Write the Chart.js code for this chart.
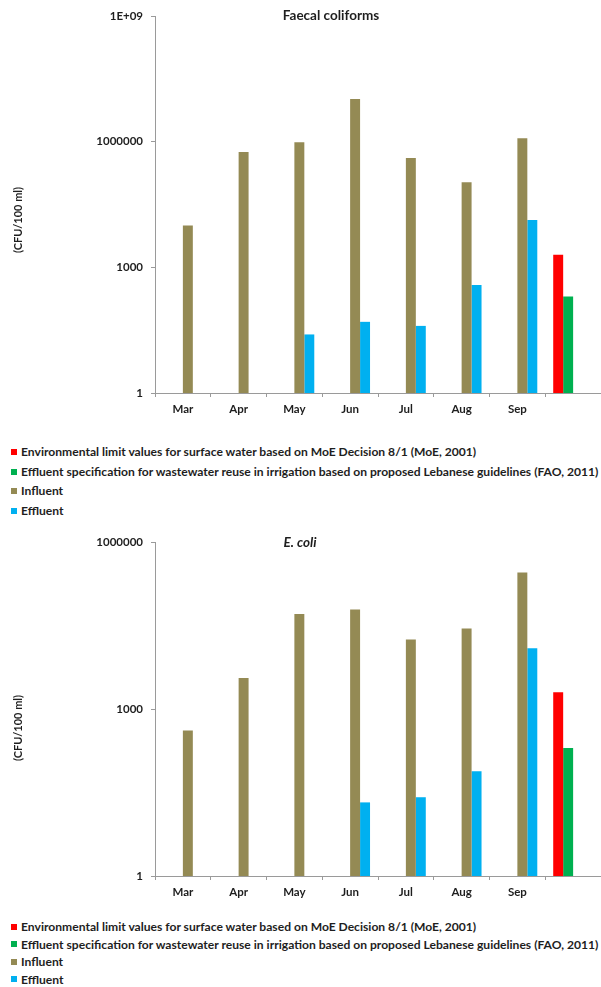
<!DOCTYPE html>
<html>
<head>
<meta charset="utf-8">
<script src="https://cdn.jsdelivr.net/npm/chart.js@4.4.1/dist/chart.umd.min.js"></script>
<style>
body { margin: 0; background: #fff; }
#page { position: relative; width: 601px; height: 987px; overflow: hidden; font-family: Lato, sans-serif; }
canvas { position: absolute; left: 0; }
.legend { position: absolute; left: 11px; font-weight: bold; font-size: 12.1px; color: #1e1e1e; white-space: nowrap; }
.legend div { display: flex; align-items: center; }
.legend .box { display: inline-block; width: 6px; height: 6px; margin-right: 4px; }
</style>
</head>
<body>
<div id="page">
  <canvas id="chart1" width="601" height="420" style="top:0px"></canvas>
  <div class="legend" id="legend1" style="top:442px; line-height:19.7px"></div>
  <canvas id="chart2" width="601" height="383" style="top:520px"></canvas>
  <div class="legend" id="legend2" style="top:918px; line-height:17.5px"></div>
</div>
<script>
const colors = {
    moe: '#ff0000',
    fao: '#00b050',
    influent: '#948a54',
    effluent: '#00b0f0',
};
const textColor = '#1e1e1e';
const axisColor = '#9a9a9a';

const months = ['Mar', 'Apr', 'May', 'Jun', 'Jul', 'Aug', 'Sep', ''];
const unitLabel = '(CFU/100 ml)';

const seriesNames = {
    moe: 'Environmental limit values for surface water based on MoE Decision 8/1  (MoE, 2001)',
    fao: 'Effluent specification for wastewater reuse in irrigation based on proposed Lebanese guidelines (FAO, 2011)',
    influent: 'Influent',
    effluent: 'Effluent',
};

// limits only sit in the last (unlabelled) slot
const moeLimit = [null, null, null, null, null, null, null, 2000];
const faoLimit = [null, null, null, null, null, null, null, 200];

// Faecal coliforms
const fcInfluent = [10000, 570000, 970000, 10500000, 410000, 107000, 1200000, null];
const fcEffluent = [null, null, 25, 50, 40, 380, 13400, null];
const fcTicks = [1, 1000, 1000000, 1000000000];
const fcTickLabels = ['1', '1000', '1000000', '1E+09'];

// E. coli
const ecInfluent = [410, 3600, 51000, 61000, 17700, 28000, 284000, null];
const ecEffluent = [null, null, null, 21, 26, 76, 12300, null];
const ecTicks = [1, 1000, 1000000];
const ecTickLabels = ['1', '1000', '1000000'];

var labelPlugin = {
    id: 'labels',
    afterDraw: function (chart, args, opts) {
        var ctx = chart.ctx;
        ctx.save();
        ctx.fillStyle = textColor;
        ctx.textAlign = 'center';
        ctx.textBaseline = 'middle';
        ctx.font = opts.titleFont;
        ctx.fillText(opts.title, opts.titleX, opts.titleY);
        ctx.translate(opts.unitX, opts.unitY);
        ctx.rotate(-Math.PI / 2);
        ctx.font = 'bold 11px Lato';
        ctx.fillText(unitLabel, 0, 0);
        ctx.restore();
    }
};

function makeChart(id, legendId, influent, effluent, ticks, tickLabels, padTop, labels) {
    var data = [
        { key: 'moe', values: moeLimit },
        { key: 'fao', values: faoLimit },
        { key: 'influent', values: influent },
        { key: 'effluent', values: effluent },
    ].map(function (s) {
        return {
            label: seriesNames[s.key],
            data: s.values,
            backgroundColor: colors[s.key],
            borderWidth: 0,
            categoryPercentage: 40 / 56,
            barPercentage: 1,
        };
    });

    var chart = new Chart(document.getElementById(id), {
        type: 'bar',
        data: { labels: months, datasets: data },
        options: {
            responsive: false,
            animation: false,
            layout: { padding: { top: padTop, left: 0, right: 0, bottom: 0 } },
            plugins: {
                legend: { display: false },
                tooltip: { enabled: false },
                labels: labels,
            },
            scales: {
                x: {
                    grid: { drawOnChartArea: false, drawTicks: true, tickLength: 4, color: axisColor },
                    border: { color: axisColor },
                    ticks: { color: textColor, padding: 5, font: { family: 'Lato', size: 11.5, weight: 'bold' } },
                    afterFit: function (scale) { scale.height = 27; },
                },
                y: {
                    type: 'logarithmic',
                    min: ticks[0],
                    max: ticks[ticks.length - 1],
                    grid: { drawOnChartArea: false, drawTicks: true, tickLength: 4, color: axisColor },
                    border: { color: axisColor },
                    ticks: {
                        color: textColor,
                        padding: 8,
                        font: { family: 'Lato', size: 11.5, weight: 'bold' },
                        callback: function (value) { return tickLabels[ticks.indexOf(value)]; },
                    },
                    afterBuildTicks: function (scale) {
                        scale.ticks = ticks.map(function (v) { return { value: v }; });
                    },
                    afterFit: function (scale) { scale.width = 155; },
                },
            },
        },
        plugins: [labelPlugin],
    });

    var legend = document.getElementById(legendId);
    data.forEach(function (d) {
        var row = document.createElement('div');
        var box = document.createElement('span');
        box.className = 'box';
        box.style.background = d.backgroundColor;
        row.appendChild(box);
        row.appendChild(document.createTextNode(d.label));
        legend.appendChild(row);
    });
    return chart;
}

makeChart('chart1', 'legend1', fcInfluent, fcEffluent, fcTicks, fcTickLabels, 16, {
    title: 'Faecal coliforms', titleFont: 'bold 13.5px Lato', titleX: 331, titleY: 16, unitX: 18, unitY: 220,
});
makeChart('chart2', 'legend2', ecInfluent, ecEffluent, ecTicks, ecTickLabels, 22, {
    title: 'E. coli', titleFont: 'italic bold 13.5px Lato', titleX: 300, titleY: 23, unitX: 18, unitY: 208,
});
</script>
</body>
</html>
